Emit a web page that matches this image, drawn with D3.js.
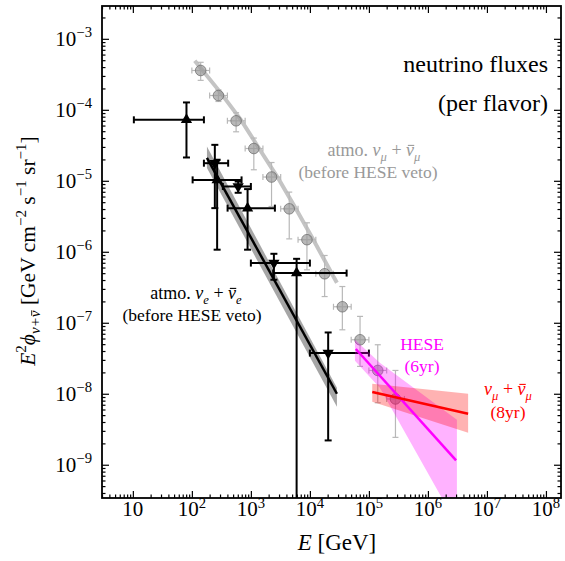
<!DOCTYPE html>
<html lang="en">
<head>
<meta charset="UTF-8">
<title>Neutrino fluxes</title>
<script src="https://cdn.jsdelivr.net/npm/d3@7"></script>
<style>
  body { margin: 0; background: #fff; }
  svg { display: block; }
</style>
</head>
<body>
<script>
// ---- data (E in GeV, flux = E^2 phi in GeV cm^-2 s^-1 sr^-1) ----

// atmospheric numu unfolding (gray circles)
const numuE   = [141, 282, 562, 1122, 2239, 4467, 8913, 17783, 35481, 70795, 141254, 281838];
const numuElo = [100, 200, 400, 800, 1600, 3200, 6300, 12600, 25100, 50100, 100000, 200000];
const numuEhi = [200, 400, 800, 1600, 3200, 6300, 12600, 25100, 50100, 100000, 200000, 400000];
const numuF   = [3.58e-4, 1.59e-4, 7.0e-5, 2.85e-5, 1.13e-5, 4.03e-6, 1.48e-6, 4.9e-7, 1.68e-7, 5.76e-8, 2.13e-8, 8.45e-9];
const numuFlo = [2.6e-4, 1.31e-4, 4.9e-5, 1.43e-5, 4.35e-6, 1.52e-6, 5.57e-7, 2.34e-7, 7.96e-8, 2.43e-8, 7.46e-9, 2.43e-9];
const numuFhi = [4.67e-4, 1.91e-4, 9.1e-5, 4.0e-5, 1.81e-5, 6.93e-6, 2.56e-6, 8.87e-7, 3.24e-7, 1.23e-7, 4.9e-8, 2.13e-8];

// atmospheric numu model (light gray curve)
const numuModelE = [112, 299, 678, 1422, 2871, 5794, 11695, 23605, 28708];
const numuModelF = [4.9e-4, 1.79e-4, 7.23e-5, 2.74e-5, 1.10e-5, 4.04e-6, 1.43e-6, 4.9e-7, 3.66e-7];

// atmospheric nue, up triangles
const nueUpE   = [81, 268, 879, 5957];
const nueUpElo = [10.4, 103, 403, 2388];
const nueUpEhi = [160, 695, 2553, 41900];
const nueUpF   = [7.23e-5, 1.03e-5, 4.12e-6, 5.01e-7];
const nueUpFlo = [2.13e-5, 1.07e-6, 1.07e-6, 1e-11];
const nueUpFhi = [1.27e-4, 1.98e-5, 7.64e-6, 7.96e-7];

// atmospheric nue, down triangles
const nueDnE   = [245, 609, 2455, 20400];
const nueDnElo = [160, 335, 1000, 10000];
const nueDnEhi = [412, 1000, 10000, 100000];
const nueDnF   = [1.77e-5, 8.32e-6, 6.93e-7, 3.74e-8];
const nueDnFlo = [4.12e-6, 6.78e-6, 4.04e-7, 2.2e-9];
const nueDnFhi = [3.21e-5, 9.77e-6, 9.37e-7, 7.3e-8];

// atmospheric nue model (black line + gray band)
const nueModelE = [180, 28700];
const nueModelF = [2.11e-5, 1.0e-8];
const nueBandHi = [3.04e-5, 1.22e-8];
const nueBandLo = [1.52e-5, 6.56e-9];

// HESE 6yr (magenta)
const heseE      = [6e4, 3e6];
const heseF      = [4.27e-8, 1.15e-9];
const heseBandE  = [5.8e4, 1.53e5, 3.1e6];
const heseBandHi = [5.77e-8, 2.74e-8, 4.3e-9];
const heseBandLo = [2.92e-8, 1.22e-8, 1.43e-10];

// numu 8yr (red)
const numu8E      = [1.14e5, 4.8e6];
const numu8F      = [1.06e-8, 5.22e-9];
const numu8BandHi = [1.38e-8, 1.0e-8];
const numu8BandLo = [7.71e-9, 2.82e-9];

// tick labels (exponents)
const xTickExp = [1, 2, 3, 4, 5, 6, 7, 8];
const yTickExp = [-3, -4, -5, -6, -7, -8, -9];

// ---- setup ----
const FONT = '"Liberation Serif", "DejaVu Serif", serif';
const W = 565, H = 561;
const L = 102, R = 561, T = 6, B = 498;

const x = d3.scaleLog().domain([3, 1.8e8]).range([L, R]);
const y = d3.scaleLog().domain([3.4e-10, 2.9e-3]).range([B, T]);

const svg = d3.select("body").append("svg")
    .attr("width", W).attr("height", H)
    .attr("font-family", FONT);
svg.append("rect").attr("width", W).attr("height", H).attr("fill", "#fff");

svg.append("defs").append("clipPath").attr("id", "clip")
    .append("rect").attr("x", L).attr("y", T).attr("width", R - L).attr("height", B - T);
const plot = svg.append("g").attr("clip-path", "url(#clip)");

const area = d3.area().x(d => x(d[0])).y0(d => y(d[1])).y1(d => y(d[2]));
const line = d3.line().x(d => x(d[0])).y(d => y(d[1]));

// text with super/subscripts; kind "bar" draws a macron line over the glyph
function rich(t, parts, fs, color) {
    let shift = 0;
    const bars = [];
    parts.forEach(([txt, k]) => {
        const ts = t.append("tspan").text(txt);
        let s = 0, size = fs;
        if (k.includes("sup")) { s = -0.4 * fs; size = 0.7 * fs; }
        if (k.includes("sub")) { s = 0.25 * fs; size = 0.7 * fs; }
        if (k.includes("i")) ts.attr("font-style", "italic");
        ts.attr("font-size", size).attr("dy", s - shift);
        shift = s;
        if (k.includes("bar")) bars.push([ts, size]);
    });
    const parent = d3.select(t.node().parentNode);
    bars.forEach(([ts, size]) => {
        const r = ts.node().getExtentOfChar(0);
        const yb = r.y + 0.27 * r.height;
        parent.append("line")
            .attr("x1", r.x + 0.22 * r.width).attr("x2", r.x + r.width * 1.02)
            .attr("y1", yb).attr("y2", yb)
            .attr("stroke", color).attr("stroke-width", Math.max(0.9, size * 0.06));
    });
}

function errorBars(g, E, Elo, Ehi, F, Flo, Fhi, color, lw, cap) {
    const idx = d3.range(E.length);
    const gg = g.append("g").attr("stroke", color).attr("stroke-width", lw);
    gg.selectAll(null).data(idx).join("line")
        .attr("x1", i => x(E[i])).attr("x2", i => x(E[i]))
        .attr("y1", i => y(Flo[i])).attr("y2", i => y(Fhi[i]));
    gg.selectAll(null).data(idx).join("line")
        .attr("x1", i => x(Elo[i])).attr("x2", i => x(Ehi[i]))
        .attr("y1", i => y(F[i])).attr("y2", i => y(F[i]));
    // caps
    [Flo, Fhi].forEach(arr => {
        gg.selectAll(null).data(idx).join("line")
            .attr("x1", i => x(E[i]) - cap).attr("x2", i => x(E[i]) + cap)
            .attr("y1", i => y(arr[i])).attr("y2", i => y(arr[i]));
    });
    [Elo, Ehi].forEach(arr => {
        gg.selectAll(null).data(idx).join("line")
            .attr("x1", i => x(arr[i])).attr("x2", i => x(arr[i]))
            .attr("y1", i => y(F[i]) - cap).attr("y2", i => y(F[i]) + cap);
    });
}

// ---- atmospheric numu ----
plot.append("path").datum(d3.zip(numuModelE, numuModelF)).attr("d", line)
    .attr("fill", "none").attr("stroke", "#c4c4c4").attr("stroke-width", 4);
errorBars(plot, numuE, numuElo, numuEhi, numuF, numuFlo, numuFhi, "#b8b8b8", 1.2, 3);
plot.selectAll(null).data(d3.range(numuE.length)).join("circle")
    .attr("cx", i => x(numuE[i])).attr("cy", i => y(numuF[i])).attr("r", 5.3)
    .attr("fill", "#9a9a9a").attr("fill-opacity", 0.7)
    .attr("stroke", "#666").attr("stroke-opacity", 0.7).attr("stroke-width", 1);

// ---- atmospheric nue ----
plot.append("path").datum(d3.zip(nueModelE, nueBandLo, nueBandHi)).attr("d", area)
    .attr("fill", "#a6a6a6");
plot.append("path").datum(d3.zip(nueModelE, nueModelF)).attr("d", line)
    .attr("fill", "none").attr("stroke", "#000").attr("stroke-width", 2.5);

errorBars(plot, nueUpE, nueUpElo, nueUpEhi, nueUpF, nueUpFlo, nueUpFhi, "#000", 2, 3.5);
errorBars(plot, nueDnE, nueDnElo, nueDnEhi, nueDnF, nueDnFlo, nueDnFhi, "#000", 2, 3.5);
const tri = d3.symbol().type(d3.symbolTriangle).size(55);
plot.selectAll(null).data(d3.range(nueUpE.length)).join("path")
    .attr("d", tri).attr("fill", "#000")
    .attr("transform", i => `translate(${x(nueUpE[i])},${y(nueUpF[i])})`);
plot.selectAll(null).data(d3.range(nueDnE.length)).join("path")
    .attr("d", tri).attr("fill", "#000")
    .attr("transform", i => `translate(${x(nueDnE[i])},${y(nueDnF[i])}) rotate(180)`);

// ---- astrophysical ----
plot.append("path").datum(d3.zip(heseBandE, heseBandLo, heseBandHi)).attr("d", area)
    .attr("fill", "#ff00ff").attr("fill-opacity", 0.3);
plot.append("path").datum(d3.zip(numu8E, numu8BandLo, numu8BandHi)).attr("d", area)
    .attr("fill", "#ff0000").attr("fill-opacity", 0.3);
plot.append("path").datum(d3.zip(heseE, heseF)).attr("d", line)
    .attr("fill", "none").attr("stroke", "#ff00ff").attr("stroke-width", 2.5);
plot.append("path").datum(d3.zip(numu8E, numu8F)).attr("d", line)
    .attr("fill", "none").attr("stroke", "#ff0000").attr("stroke-width", 2.5);

// ---- axes ----
const xMajor = xTickExp.map(e => Math.pow(10, e));
const yMajor = yTickExp.map(e => Math.pow(10, e));
const isPow = v => Math.abs(Math.log10(v) - Math.round(Math.log10(v))) < 1e-9;
const xMinor = x.ticks().filter(v => !isPow(v));
const yMinor = y.ticks().filter(v => !isPow(v));

function tickAxis(axisFn, scale, vals, len, transform) {
    const g = svg.append("g").attr("transform", transform)
        .call(axisFn(scale).tickValues(vals).tickSizeInner(-len).tickSizeOuter(0).tickFormat(""));
    g.select(".domain").remove();
    g.selectAll("line").attr("stroke-width", 1.2);
    return g;
}
[[d3.axisBottom, x, `translate(0,${B})`, xMajor, xMinor],
 [d3.axisTop, x, `translate(0,${T})`, xMajor, xMinor],
 [d3.axisLeft, y, `translate(${L},0)`, yMajor, yMinor],
 [d3.axisRight, y, `translate(${R},0)`, yMajor, yMinor]].forEach(([fn, sc, tr, maj, min]) => {
    tickAxis(fn, sc, maj, 7, tr);
    tickAxis(fn, sc, min, 3.5, tr);
});

// tick labels
const TFS = 21;
svg.append("g").selectAll("text").data(xTickExp).join("text")
    .attr("x", e => x(Math.pow(10, e))).attr("y", 516)
    .attr("text-anchor", "middle").attr("font-size", TFS)
    .each(function (e) {
        const t = d3.select(this);
        if (e === 1) t.text("10");
        else rich(t, [["10", ""], [String(e), "sup"]], TFS, "#000");
    });
svg.append("g").selectAll("text").data(yTickExp).join("text")
    .attr("x", 92).attr("y", e => y(Math.pow(10, e)) + 7)
    .attr("text-anchor", "end").attr("font-size", TFS)
    .each(function (e) {
        rich(d3.select(this), [["10", ""], ["\u2212" + Math.abs(e), "sup"]], TFS, "#000");
    });

svg.append("rect").attr("x", L).attr("y", T).attr("width", R - L).attr("height", B - T)
    .attr("fill", "none").attr("stroke", "#000").attr("stroke-width", 1.8);

// axis titles
const xl = svg.append("g").append("text").attr("x", 337).attr("y", 550)
    .attr("text-anchor", "middle").attr("font-size", 23);
rich(xl, [["E", "i"], [" [GeV]", ""]], 23, "#000");

const yl = svg.append("g").attr("transform", "translate(35,251) rotate(-90)")
    .append("text").attr("text-anchor", "middle").attr("font-size", 21.5);
rich(yl, [["E", "i"], ["2", "sup"], ["\u03d5", "i"], ["\u03bd+", "isub"], ["\u03bd", "isubbar"],
          [" [GeV cm", ""], ["\u22122", "sup"], [" s", ""], ["\u22121", "sup"],
          [" sr", ""], ["\u22121", "sup"], ["]", ""]], 21.5, "#000");

// annotations
const ann = (xx, yy, parts, fs, color, anchor) => {
    const t = svg.append("g").append("text").attr("x", xx).attr("y", yy).attr("font-size", fs)
        .attr("fill", color).attr("text-anchor", anchor);
    rich(t, parts, fs, color);
};
ann(548, 72, [["neutrino fluxes", ""]], 24, "#000", "end");
ann(548, 111, [["(per flavor)", ""]], 24, "#000", "end");

ann(374, 156, [["atmo. ", ""], ["\u03bd", "i"], ["\u03bc", "isub"], [" + ", ""], ["\u03bd", "ibar"], ["\u03bc", "isub"]], 18, "#999", "middle");
ann(368, 178, [["(before HESE veto)", ""]], 17.5, "#999", "middle");

ann(196, 299, [["atmo. ", ""], ["\u03bd", "i"], ["e", "isub"], [" + ", ""], ["\u03bd", "ibar"], ["e", "isub"]], 18, "#000", "middle");
ann(192, 321, [["(before HESE veto)", ""]], 17.5, "#000", "middle");

ann(422, 350, [["HESE", ""]], 17.5, "#ff00ff", "middle");
ann(422, 372, [["(6yr)", ""]], 17.5, "#ff00ff", "middle");

ann(508, 395, [["\u03bd", "i"], ["\u03bc", "isub"], [" + ", ""], ["\u03bd", "ibar"], ["\u03bc", "isub"]], 18, "#ff0000", "middle");
ann(508, 418, [["(8yr)", ""]], 17.5, "#ff0000", "middle");
</script>
</body>
</html>
